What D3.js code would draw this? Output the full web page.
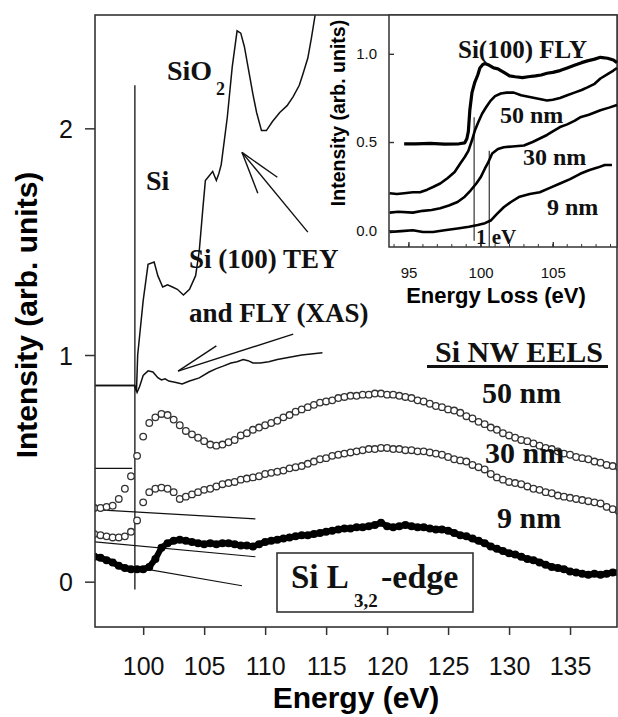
<!DOCTYPE html>
<html>
<head>
<meta charset="utf-8">
<script src="https://cdn.jsdelivr.net/npm/d3@7"></script>
<style>
  html, body { margin: 0; padding: 0; background: #fff; }
  svg { display: block; }
  .sans { font-family: "Liberation Sans", Arial, Helvetica, sans-serif; }
  .serif { font-family: "Liberation Serif", "Times New Roman", Times, serif; font-weight: bold; }
</style>
</head>
<body>
<svg id="chart" width="618" height="717"></svg>
<script>
// ---------- Main panel: Si L3,2-edge, XAS and nanowire EELS ----------
const energyTicks = [100, 105, 110, 115, 120, 125, 130, 135];
const intensityTicks = [0, 1, 2];

// EELS spectra sampled every 0.5 eV from 96 to 139 eV
const eelsEnergy = d3.range(96, 139.001, 0.5);
const eels50nm = [
  0.325, 0.325, 0.33, 0.335, 0.365, 0.41, 0.465, 0.555, 0.64, 0.70,
  0.725, 0.74, 0.735, 0.715, 0.69, 0.665, 0.65, 0.635, 0.62, 0.605,
  0.60, 0.605, 0.615, 0.625, 0.645, 0.655, 0.67, 0.68, 0.69, 0.70,
  0.71, 0.725, 0.735, 0.75, 0.76, 0.77, 0.78, 0.79, 0.795, 0.80,
  0.81, 0.815, 0.82, 0.82, 0.825, 0.825, 0.83, 0.83, 0.825, 0.825,
  0.82, 0.815, 0.81, 0.80, 0.795, 0.785, 0.775, 0.77, 0.76, 0.755,
  0.745, 0.73, 0.72, 0.705, 0.695, 0.68, 0.67, 0.655, 0.645, 0.635,
  0.625, 0.62, 0.61, 0.60, 0.59, 0.585, 0.575, 0.565, 0.56, 0.55,
  0.545, 0.54, 0.53, 0.525, 0.515, 0.51, 0.505
];
const eels30nm = [
  0.21, 0.205, 0.20, 0.195, 0.195, 0.20, 0.22, 0.27, 0.35, 0.395,
  0.41, 0.415, 0.41, 0.395, 0.365, 0.375, 0.385, 0.395, 0.405, 0.41,
  0.42, 0.43, 0.435, 0.44, 0.45, 0.455, 0.46, 0.465, 0.475, 0.48,
  0.485, 0.49, 0.50, 0.505, 0.51, 0.52, 0.53, 0.54, 0.545, 0.555,
  0.56, 0.565, 0.57, 0.575, 0.58, 0.585, 0.585, 0.59, 0.59, 0.585,
  0.585, 0.58, 0.58, 0.575, 0.575, 0.57, 0.565, 0.56, 0.55, 0.54,
  0.535, 0.53, 0.515, 0.505, 0.495, 0.475, 0.46, 0.45, 0.44, 0.435,
  0.43, 0.42, 0.41, 0.405, 0.395, 0.39, 0.38, 0.375, 0.37, 0.365,
  0.36, 0.355, 0.35, 0.345, 0.33, 0.32, 0.31
];
const eels9nm = [
  0.11, 0.105, 0.095, 0.085, 0.07, 0.06, 0.055, 0.055, 0.055, 0.065,
  0.10, 0.15, 0.17, 0.18, 0.185, 0.18, 0.175, 0.17, 0.165, 0.17,
  0.165, 0.17, 0.17, 0.165, 0.16, 0.16, 0.155, 0.165, 0.175, 0.18,
  0.185, 0.19, 0.195, 0.20, 0.205, 0.205, 0.21, 0.215, 0.22, 0.225,
  0.23, 0.235, 0.235, 0.24, 0.24, 0.245, 0.25, 0.26, 0.245, 0.24,
  0.245, 0.25, 0.245, 0.24, 0.24, 0.235, 0.23, 0.23, 0.225, 0.215,
  0.205, 0.20, 0.19, 0.18, 0.17, 0.155, 0.145, 0.135, 0.125, 0.12,
  0.11, 0.10, 0.095, 0.085, 0.075, 0.065, 0.06, 0.055, 0.045, 0.04,
  0.035, 0.03, 0.035, 0.03, 0.035, 0.04, 0.04
];

// Si(100) total electron yield
const teyEnergy = [96, 99.3, 99.45, 99.55, 100.0, 100.4, 100.9, 101.2, 101.6, 102.0,
  102.4, 102.8, 103.3, 103.8, 104.3, 104.6, 104.9, 105.1, 105.4, 105.7,
  106.0, 106.2, 106.4, 106.9, 107.3, 107.7, 108.0, 108.3, 108.6, 109.0,
  109.3, 109.7, 110.1, 110.6, 111.2, 111.8, 112.3, 112.8, 113.1, 113.5,
  113.8, 114.1, 114.4];
const teyIntensity = [0.865, 0.865, 0.84, 1.0, 1.24, 1.40, 1.41, 1.35, 1.30, 1.31,
  1.30, 1.29, 1.265, 1.29, 1.35, 1.46, 1.65, 1.77, 1.79, 1.81,
  1.77, 1.80, 1.84, 2.05, 2.27, 2.43, 2.42, 2.36, 2.27, 2.15,
  2.07, 1.99, 1.99, 2.03, 2.07, 2.10, 2.14, 2.19, 2.24, 2.31,
  2.40, 2.50, 2.60];

// Si(100) fluorescence yield
const flyEnergy = [96, 99.3, 99.5, 99.7, 100.0, 100.4, 100.8, 101.2, 101.5, 101.8,
  102.1, 102.6, 103.2, 103.8, 104.6, 105.4, 106.0, 106.5, 107.2, 107.7,
  108.2, 108.6, 109.0, 109.6, 110.3, 111.0, 112.0, 113.0, 114.7];
const flyIntensity = [0.865, 0.865, 0.835, 0.86, 0.91, 0.93, 0.925, 0.90, 0.89, 0.895,
  0.885, 0.88, 0.872, 0.885, 0.899, 0.925, 0.94, 0.95, 0.965, 0.97,
  0.98, 0.975, 0.965, 0.965, 0.97, 0.98, 0.99, 1.0, 1.01];

// Pre-edge guide lines [E0, I0, E1, I1]
const guideLines = [
  [96, 0.50, 99.1, 0.50],
  [96, 0.318, 109.2, 0.277],
  [96, 0.176, 109.2, 0.11],
  [99.3, 0.064, 108.1, -0.018]
];
const edgeEnergy = 99.32;

// ---------- Inset: edge onset on an energy-loss scale ----------
const insetEnergyTicks = [95, 100, 105];
const insetIntensityTicks = [0.0, 0.5, 1.0];
const insetFlyE = [94.7, 95.5, 96.5, 97.5, 98.5, 98.9, 99.05, 99.15, 99.25, 99.4,
  99.6, 99.8, 99.95, 100.15, 100.3, 100.6, 100.9, 101.2, 101.4, 101.7,
  102.0, 102.4, 102.9, 103.3, 103.8, 104.2, 104.6, 105.0, 105.5, 106.0,
  106.5, 107.0, 107.4, 107.9, 108.3, 108.8, 109.2, 109.45];
const insetFlyI = [0.49, 0.49, 0.492, 0.488, 0.49, 0.495, 0.52, 0.56, 0.68, 0.78,
  0.84, 0.88, 0.92, 0.94, 0.945, 0.935, 0.92, 0.915, 0.905, 0.89,
  0.875, 0.87, 0.865, 0.87, 0.875, 0.88, 0.89, 0.895, 0.905, 0.92,
  0.935, 0.95, 0.96, 0.97, 0.98, 0.975, 0.965, 0.95];
const inset50E = [93.7, 94.2, 94.7, 95.3, 95.8, 96.3, 96.7, 97.2, 97.7, 98.2,
  98.6, 98.9, 99.15, 99.4, 99.6, 99.85, 100.1, 100.4, 100.7, 101.0,
  101.4, 101.8, 102.3, 102.8, 103.4, 104.0, 104.6, 105.0, 105.5, 106.0,
  106.5, 107.0, 107.4, 107.9, 108.3, 108.8, 109.2, 109.45];
const inset50I = [0.21, 0.205, 0.21, 0.215, 0.215, 0.23, 0.245, 0.265, 0.295, 0.33,
  0.38, 0.415, 0.45, 0.51, 0.565, 0.615, 0.66, 0.70, 0.735, 0.76,
  0.775, 0.78, 0.78, 0.765, 0.755, 0.745, 0.735, 0.74, 0.75, 0.765,
  0.78, 0.795, 0.81, 0.83, 0.86, 0.885, 0.905, 0.92];
const inset30E = [93.7, 94.3, 95.3, 96.0, 96.6, 97.2, 97.8, 98.4, 98.9, 99.3,
  99.7, 100.0, 100.3, 100.5, 100.8, 101.2, 101.6, 102.2, 103.0, 103.6,
  104.1, 104.6, 105.0, 105.5, 106.0, 106.5, 106.9, 107.5, 108.3, 108.9, 109.45];
const inset30I = [0.10, 0.105, 0.10, 0.11, 0.115, 0.125, 0.14, 0.16, 0.19, 0.225,
  0.265, 0.30, 0.35, 0.38, 0.435, 0.46, 0.47, 0.475, 0.48, 0.50,
  0.52, 0.54, 0.56, 0.585, 0.60, 0.62, 0.64, 0.655, 0.68, 0.695, 0.71];
const inset9E = [93.7, 94.5, 95.3, 96.0, 96.7, 97.5, 98.4, 99.2, 99.8, 100.3,
  100.7, 101.1, 101.6, 102.1, 102.7, 103.4, 104.1, 104.8, 105.5, 106.2,
  106.9, 107.5, 108.1, 108.6, 109.1];
const inset9I = [-0.01, -0.005, 0.0, -0.01, -0.01, 0.0, 0.01, 0.02, 0.03, 0.04,
  0.055, 0.09, 0.13, 0.16, 0.19, 0.205, 0.215, 0.24, 0.265, 0.29,
  0.32, 0.34, 0.355, 0.37, 0.37];
// Onset markers [E, Itop, Ibottom]
const onsetMarkers = [[99.55, 0.64, -0.06], [100.6, 0.45, -0.095]];

// ---------- Drawing ----------
const svg = d3.select("#chart");
const frame = { left: 95, right: 617, top: 15, bottom: 627 };
const inset = { left: 389, right: 617, top: 15, bottom: 247 };
const ink = "#111";
const axisInk = "#333";

const x = d3.scaleLinear().domain([96.05, 138.85]).range([frame.left, frame.right]);
const y = d3.scaleLinear().domain([-0.2, 2.5]).range([frame.bottom, frame.top]);

svg.append("defs").append("clipPath").attr("id", "mainClip")
  .append("rect").attr("x", frame.left).attr("y", frame.top)
  .attr("width", frame.right - frame.left).attr("height", frame.bottom - frame.top);

const plot = svg.append("g").attr("clip-path", "url(#mainClip)");
const line = d3.line().x(d => x(d[0])).y(d => y(d[1]));

// guides and edge marker
plot.selectAll(".guide").data(guideLines).join("line")
  .attr("x1", d => x(d[0])).attr("y1", d => y(d[1]))
  .attr("x2", d => x(d[2])).attr("y2", d => y(d[3]))
  .attr("stroke", ink).attr("stroke-width", 1.1);
plot.append("line")
  .attr("x1", x(edgeEnergy)).attr("x2", x(edgeEnergy))
  .attr("y1", y(2.19)).attr("y2", y(-0.035))
  .attr("stroke", ink).attr("stroke-width", 1.3);

// XAS curves
plot.append("path").datum(d3.zip(teyEnergy, teyIntensity))
  .attr("d", line).attr("fill", "none").attr("stroke", ink).attr("stroke-width", 1.5);
plot.append("path").datum(d3.zip(flyEnergy, flyIntensity))
  .attr("d", line).attr("fill", "none").attr("stroke", ink).attr("stroke-width", 1.5);

// EELS 9 nm: solid dots
const pts9 = d3.zip(eelsEnergy, eels9nm);
plot.append("path").datum(pts9).attr("d", line)
  .attr("fill", "none").attr("stroke", "#000").attr("stroke-width", 6);
plot.selectAll(".dot9").data(pts9).join("circle")
  .attr("cx", d => x(d[0])).attr("cy", d => y(d[1])).attr("r", 4).attr("fill", "#000");

// EELS 50 nm and 30 nm: open circles
[eels50nm, eels30nm].forEach(vals => {
  plot.append("g").selectAll("circle").data(d3.zip(eelsEnergy, vals)).join("circle")
    .attr("cx", d => x(d[0])).attr("cy", d => y(d[1])).attr("r", 3.3)
    .attr("fill", "#fff").attr("stroke", "#333").attr("stroke-width", 1.3);
});

// arrows
const arrows = [
  { tip: [108.1, 1.894], ends: [[111.0, 1.784], [109.4, 1.714], [113.5, 1.542]] },
  { tip: [102.86, 0.929], ends: [[106.0, 1.04], [112.3, 1.092]] }
];
arrows.forEach(a => {
  a.ends.forEach(e => {
    plot.append("line")
      .attr("x1", x(a.tip[0])).attr("y1", y(a.tip[1]))
      .attr("x2", x(e[0])).attr("y2", y(e[1]))
      .attr("stroke", ink).attr("stroke-width", 1.4);
  });
});

// main frame
svg.append("rect").attr("x", frame.left).attr("y", frame.top)
  .attr("width", frame.right - frame.left).attr("height", frame.bottom - frame.top)
  .attr("fill", "none").attr("stroke", axisInk).attr("stroke-width", 1.6);

// main axes
const xAxis = svg.append("g").attr("transform", `translate(0,${frame.bottom})`)
  .call(d3.axisBottom(x).tickValues(energyTicks).tickSize(8).tickPadding(22));
const yAxis = svg.append("g").attr("transform", `translate(${frame.left},0)`)
  .call(d3.axisLeft(y).tickValues(intensityTicks).tickSize(10).tickPadding(12).tickFormat(d3.format("d")));
[xAxis, yAxis].forEach(g => {
  g.select(".domain").remove();
  g.selectAll(".tick line").attr("stroke", axisInk).attr("stroke-width", 1.5);
  g.selectAll(".tick text").attr("class", "sans").attr("font-size", 25).attr("fill", "#111");
});
yAxis.selectAll(".tick text").attr("dy", "0.36em");

svg.append("text").attr("class", "sans").attr("font-weight", "bold").attr("font-size", 30)
  .attr("text-anchor", "middle").attr("x", 356).attr("y", 708).text("Energy (eV)");
svg.append("text").attr("class", "sans").attr("font-weight", "bold").attr("font-size", 30)
  .attr("text-anchor", "middle").attr("transform", "translate(37,315) rotate(-90)")
  .text("Intensity (arb. units)");

// main annotations
const ann = svg.append("g").attr("class", "serif").attr("fill", "#111");
const sio = ann.append("text").attr("x", 167).attr("y", 80).attr("font-size", 28);
sio.append("tspan").text("SiO");
sio.append("tspan").attr("x", 216).attr("y", 95).attr("font-size", 18).text("2");
ann.append("text").attr("x", 146).attr("y", 190).attr("font-size", 28).text("Si");
ann.append("text").attr("x", 189).attr("y", 268).attr("font-size", 27).text("Si (100) TEY");
ann.append("text").attr("x", 189).attr("y", 322).attr("font-size", 27).text("and FLY (XAS)");
ann.append("text").attr("x", 435).attr("y", 362).attr("font-size", 30).text("Si NW EELS");
ann.append("rect").attr("x", 427).attr("y", 365).attr("width", 181).attr("height", 3).attr("fill", "#111");
ann.append("text").attr("x", 482).attr("y", 403).attr("font-size", 30).text("50 nm");
ann.append("text").attr("x", 485).attr("y", 463).attr("font-size", 30).text("30 nm");
ann.append("text").attr("x", 497).attr("y", 528).attr("font-size", 30).text("9 nm");

ann.append("rect").attr("x", 277).attr("y", 553).attr("width", 196).attr("height", 59)
  .attr("fill", "#fff").attr("stroke", axisInk).attr("stroke-width", 1.6);
const edge = ann.append("text").attr("x", 291).attr("y", 588).attr("font-size", 33);
edge.append("tspan").text("Si L");
edge.append("tspan").attr("x", 354).attr("y", 607).attr("font-size", 19).text("3,2");
edge.append("tspan").attr("x", 381).attr("y", 588).attr("font-size", 34).text("-edge");

// ---------- Inset ----------
const xi = d3.scaleLinear().domain([93.65, 109.45]).range([inset.left, inset.right]);
const yi = d3.scaleLinear().domain([-0.095, 1.22]).range([inset.bottom, inset.top]);
const lineI = d3.line().x(d => xi(d[0])).y(d => yi(d[1]));

svg.append("rect").attr("x", inset.left).attr("y", inset.top)
  .attr("width", inset.right - inset.left).attr("height", inset.bottom - inset.top)
  .attr("fill", "#fff").attr("stroke", axisInk).attr("stroke-width", 1.5);

const ig = svg.append("g");
ig.selectAll(".onset").data(onsetMarkers).join("line")
  .attr("x1", d => xi(d[0])).attr("x2", d => xi(d[0]))
  .attr("y1", d => yi(d[1])).attr("y2", d => yi(d[2]))
  .attr("stroke", "#444").attr("stroke-width", 1.3);

[[insetFlyE, insetFlyI, 3.2], [inset50E, inset50I, 2.6], [inset30E, inset30I, 2.6], [inset9E, inset9I, 2.6]]
  .forEach(([es, is, w]) => {
    ig.append("path").datum(d3.zip(es, is)).attr("d", lineI)
      .attr("fill", "none").attr("stroke", "#000").attr("stroke-width", w)
      .attr("stroke-linejoin", "round");
  });

const xiAxis = svg.append("g").attr("transform", `translate(0,${inset.bottom})`)
  .call(d3.axisBottom(xi).tickValues(insetEnergyTicks).tickSize(-5).tickPadding(20));
const yiAxis = svg.append("g").attr("transform", `translate(${inset.left},0)`)
  .call(d3.axisLeft(yi).tickValues(insetIntensityTicks).tickSize(-5).tickPadding(12).tickFormat(d3.format(".1f")));
[xiAxis, yiAxis].forEach(g => {
  g.select(".domain").remove();
  g.selectAll(".tick line").attr("stroke", axisInk).attr("stroke-width", 1.4);
  g.selectAll(".tick text").attr("class", "sans").attr("font-size", 15).attr("fill", "#111");
});
// minor ticks on the inset energy axis
svg.append("g").selectAll("line").data(d3.range(94, 110, 1)).join("line")
  .attr("x1", d => xi(d)).attr("x2", d => xi(d))
  .attr("y1", inset.bottom).attr("y2", inset.bottom - 3)
  .attr("stroke", axisInk).attr("stroke-width", 1);

svg.append("text").attr("class", "sans").attr("font-weight", "bold").attr("font-size", 22)
  .attr("text-anchor", "middle").attr("x", 496).attr("y", 303).text("Energy Loss (eV)");
svg.append("text").attr("class", "sans").attr("font-weight", "bold").attr("font-size", 19.5)
  .attr("text-anchor", "middle").attr("transform", "translate(345,113) rotate(-90)")
  .text("Intensity (arb. units)");

const ia = svg.append("g").attr("class", "serif").attr("fill", "#111");
ia.append("text").attr("x", 458).attr("y", 58).attr("font-size", 25).text("Si(100) FLY");
ia.append("text").attr("x", 500).attr("y", 123).attr("font-size", 24).text("50 nm");
ia.append("text").attr("x", 523).attr("y", 165).attr("font-size", 24).text("30 nm");
ia.append("text").attr("x", 547).attr("y", 215).attr("font-size", 24).text("9 nm");
ia.append("text").attr("x", 476).attr("y", 244).attr("font-size", 21).text("1 eV");
</script>
</body>
</html>
